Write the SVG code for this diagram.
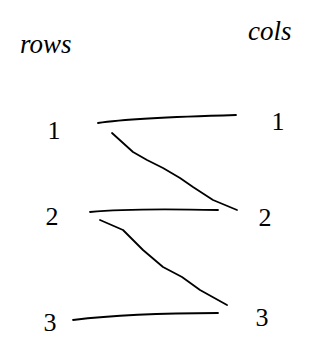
<svg xmlns="http://www.w3.org/2000/svg" width="320" height="350" viewBox="0 0 320 350">
<style>
.t{font-family:"Liberation Serif",serif;fill:#000}
.h{font-size:27px;font-style:italic}
.n{font-size:26px;text-anchor:middle}
.e{fill:none;stroke:#000;stroke-width:1.8;stroke-linecap:round;stroke-linejoin:round}
</style>
<rect width="320" height="350" fill="#fff"/>
<g id="header-rows"><text class="t h" x="20" y="53">rows</text></g>
<g id="header-cols"><text class="t h" x="248" y="40">cols</text></g>
<g id="row1"><text class="t n" x="54" y="139">1</text></g>
<g id="row2"><text class="t n" x="52" y="225">2</text></g>
<g id="row3"><text class="t n" x="50" y="331">3</text></g>
<g id="col1"><text class="t n" x="278" y="130">1</text></g>
<g id="col2"><text class="t n" x="265" y="226">2</text></g>
<g id="col3"><text class="t n" x="262" y="326">3</text></g>
<g id="connectors">
<path class="e" d="M98,123 Q130,118 236,115"/>
<path class="e" d="M112,133 L133,152 L147,160 L163,168 L180,178 L193,187 L213,200 L237,210"/>
<path class="e" d="M90,212 Q130,208 218,210"/>
<path class="e" d="M100,220 L123,230 L143,250 L163,267 L182,277 L200,290 L227,305"/>
<path class="e" d="M73,320 Q130,313 218,313"/>
</g>
</svg>
